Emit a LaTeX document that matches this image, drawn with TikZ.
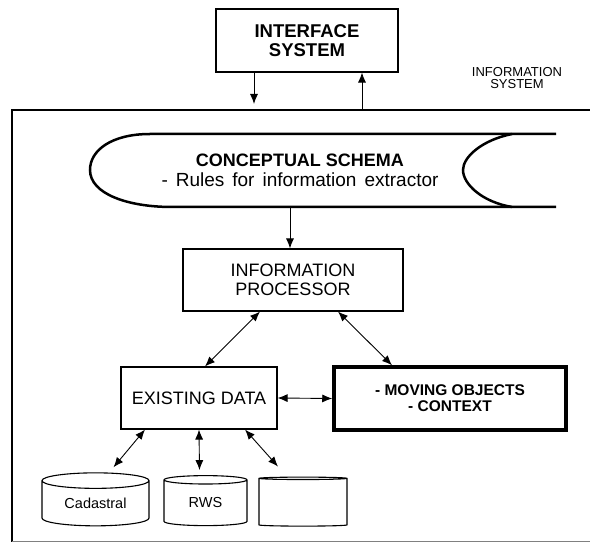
\documentclass[tikz,border=0pt]{standalone}
\usepackage{fontspec}
\setmainfont{Liberation Sans}
\usepackage{tikz}
\usetikzlibrary{shapes.geometric,calc,arrows.meta}

\begin{document}
\begin{tikzpicture}[x=1pt,y=-1pt,
    box/.style={draw, line width=1.1pt, inner sep=0pt, align=center},
    big/.style={font=\fontsize{18}{19}\selectfont},
    db/.style={draw, line width=1.1pt, cylinder, shape border rotate=90, aspect=0.25,
        inner sep=0pt, font=\fontsize{14.5}{16}\selectfont},
    link/.style={line width=0.9pt, {Latex[length=10pt,width=8pt]}-{Latex[length=10pt,width=8pt]}},
    onew/.style={line width=0.9pt, -{Latex[length=10pt,width=8pt]}}]
    \useasboundingbox (0,0) rectangle (590,545);
    
    \node[box, minimum width=182pt, minimum height=63pt, font=\fontsize{18.5}{19}\selectfont\bfseries] (iface) at (307,40.5) {INTERFACE\\SYSTEM};
    \node[align=center, font=\fontsize{13}{12}\selectfont] (infosys) at (517,78) {INFORMATION\\SYSTEM};
    
    % frame of the information system
    \draw[line width=2pt] (590,110) -- (12,110) -- (12,542);
    \draw[line width=1pt, gray] (12,542) -- (590,542);
    \coordinate (fin) at (254,104);
    \coordinate (fout) at (362,110);
    \draw[onew] ([xshift=-53pt]iface.south) -- (fin);
    \draw[onew] (fout) -- ([xshift=55pt]iface.south);
    
    % conceptual schema scroll
    \draw[line width=2.5pt] (556,134) -- (150,134) .. controls (112,134) and (90,150) .. (90,170)
        .. controls (90,194) and (128,207) .. (172,207) -- (556,207);
    \draw[line width=2.5pt] (512,134) .. controls (482,140) and (463,157) .. (463,170)
        .. controls (463,184) and (482,202) .. (512,207);
    \node[align=center, font=\fontsize{18}{20}\selectfont] (schema) at (300,170) {\textbf{CONCEPTUAL SCHEMA}\\{\fontsize{19}{20}\selectfont\spaceskip=8pt - Rules for information extractor}};
    \coordinate (schemabot) at (290,207);
    
    \node[box, big, minimum width=220pt, minimum height=62pt] (proc) at (293,280) {INFORMATION\\PROCESSOR};
    \node[box, big, minimum width=156pt, minimum height=62pt] (exist) at (199,398) {EXISTING DATA};
    \node[box, line width=3.5pt, minimum width=232pt, minimum height=63pt, font=\fontsize{15.5}{16}\selectfont\bfseries] (moving) at (450,398.5) {- MOVING OBJECTS\\- CONTEXT};
    
    \node[db, minimum width=107pt, minimum height=53pt] (cad) at (95.5,503.5) {Cadastral};
    \node[db, minimum width=83pt, minimum height=50pt] (rws) at (205.5,503) {RWS};
    \node[db, minimum width=88pt, minimum height=49pt] (other) at (303,502.5) {\phantom{X}};
    
    \draw[onew] (schemabot) -- ([xshift=-3pt]proc.north);
    \draw[link] ([xshift=-33pt]proc.south) -- ([xshift=6pt]exist.north);
    \draw[link] ([xshift=45pt]proc.south) -- ([xshift=-58pt]moving.north);
    \draw[link] (exist.east) -- (moving.west);
    \draw[link] ([xshift=-54pt]exist.south) -- ([xshift=18pt,yshift=5pt]cad.north);
    \draw[link] (exist.south) -- ([xshift=-6pt,yshift=5pt]rws.north);
    \draw[link] ([xshift=46pt]exist.south) -- ([xshift=-25pt,yshift=10pt]other.north);
    
\end{tikzpicture}
\end{document}
